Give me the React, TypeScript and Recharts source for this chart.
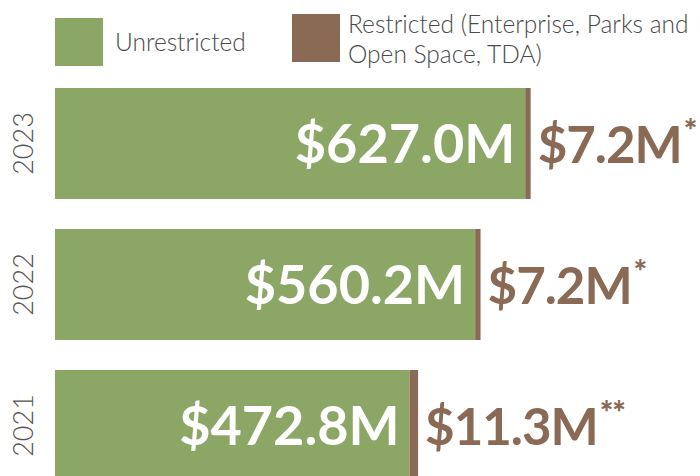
import { BarChart, Bar, XAxis, YAxis, Legend, LabelList } from 'recharts'

const years = ['2023', '2022', '2021']
const unrestricted = [627.0, 560.2, 472.8]
const restricted = [7.2, 7.2, 11.3]
const notes = ['*', '*', '**']
const seriesNames = ['Unrestricted', 'Restricted (Enterprise, Parks and Open Space, TDA)']

const GREEN = '#8ba665'
const BROWN = '#8a6a55'
const FONT = 'Lato, "Open Sans", sans-serif'

const data = years.map((year, i) => ({
  year,
  unrestricted: unrestricted[i],
  restricted: restricted[i],
  note: notes[i],
}))

const money = (v: number) => `$${v.toFixed(1)}M`

function YearTick({ x, y, payload }: any) {
  const bx = x - 14
  return (
    <text
      x={bx}
      y={y}
      transform={`rotate(-90 ${bx} ${y})`}
      textAnchor="middle"
      fill="#555"
      fontFamily={FONT}
      fontWeight={300}
      fontSize={27}
    >
      {payload.value}
    </text>
  )
}

function RestrictedLabel({ x, y, width, height, index }: any) {
  const row = data[index]
  return (
    <text
      x={x + width + 7}
      y={y + height / 2}
      dominantBaseline="central"
      fill={BROWN}
      fontFamily={FONT}
      fontWeight={700}
      fontSize={51}
      letterSpacing={-1}
    >
      {money(row.restricted)}
      <tspan fontSize={32} fontWeight={900} dx={2} dy={-15}>{row.note}</tspan>
    </text>
  )
}

function LegendBox({ payload }: any) {
  const items = [...(payload ?? [])].sort(
    (a: any, b: any) => seriesNames.indexOf(a.value) - seriesNames.indexOf(b.value),
  )
  return (
    <div style={{ display: 'flex', fontFamily: FONT, fontWeight: 300, fontSize: 24.5, color: '#4a4a4a', lineHeight: '30px', whiteSpace: 'nowrap' }}>
      {items.map((it: any, i: number) => (
        <div
          key={it.value}
          style={{ display: 'flex', alignItems: i === 0 ? 'center' : 'flex-start', width: i === 0 ? 237 : 408 }}
        >
          <div style={{ width: 48, height: 48, background: it.color, flexShrink: 0 }} />
          <div style={{ marginLeft: i === 0 ? 12 : 8, marginTop: i === 0 ? 0 : -5 }}>
            {i === 0 ? it.value : (
              <>
                Restricted (Enterprise, Parks and
                <br />
                Open Space, TDA)
              </>
            )}
          </div>
        </div>
      ))}
    </div>
  )
}

export default function App() {
  return (
    <div style={{ position: 'fixed', top: 0, left: 0, width: 700, height: 476, overflow: 'hidden', background: '#fff' }}>
      <BarChart
        width={700}
        height={496}
        data={data}
        layout="vertical"
        margin={{ top: 73, right: 0, bottom: 0, left: 0 }}
        barSize={111}
      >
        <XAxis type="number" domain={[0, 860]} hide />
        <YAxis
          type="category"
          dataKey="year"
          width={55}
          axisLine={false}
          tickLine={false}
          tick={<YearTick />}
        />
        <Legend
          layout="horizontal"
          verticalAlign="middle"
          align="center"
          wrapperStyle={{ top: 14, left: 55, width: 645 }}
          content={<LegendBox />}
        />
        <Bar dataKey="unrestricted" name={seriesNames[0]} stackId="a" fill={GREEN} isAnimationActive={false}>
          <LabelList
            dataKey="unrestricted"
            position="insideRight"
            offset={10}
            formatter={(v: any) => money(Number(v))}
            fill="#fff"
            fontFamily={FONT}
            fontWeight={700}
            fontSize={54}
          />
        </Bar>
        <Bar dataKey="restricted" name={seriesNames[1]} stackId="a" fill={BROWN} isAnimationActive={false}>
          <LabelList dataKey="restricted" content={<RestrictedLabel />} />
        </Bar>
      </BarChart>
    </div>
  )
}
